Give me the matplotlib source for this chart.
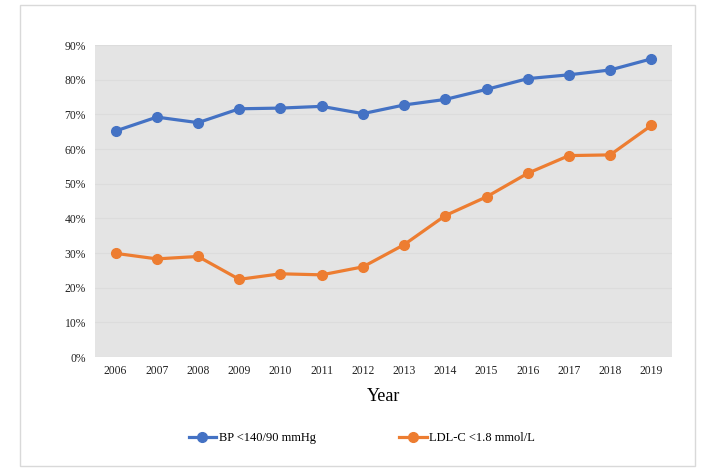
import matplotlib
matplotlib.use("Agg")
import matplotlib.pyplot as plt
from matplotlib.patches import Rectangle
from matplotlib.ticker import FuncFormatter, MultipleLocator

years = ["2006", "2007", "2008", "2009", "2010", "2011", "2012",
         "2013", "2014", "2015", "2016", "2017", "2018", "2019"]
bp = [65.2, 69.2, 67.6, 71.6, 71.8, 72.3, 70.2, 72.7, 74.3, 77.2, 80.3, 81.4, 82.8, 86.0]
ldl = [29.9, 28.3, 29.0, 22.4, 24.0, 23.7, 26.0, 32.4, 40.8, 46.2, 53.0, 58.1, 58.3, 66.8]
labels = ["BP <140/90 mmHg", "LDL-C <1.8 mmol/L"]

plt.rcParams['font.family'] = ['Liberation Serif', 'DejaVu Serif']

fig = plt.figure(figsize=(7.08, 4.72), dpi=100)
W, H = 708, 472
# outer border
fig.patches.append(Rectangle((20 / W, 1 - 466 / H), (695 - 20) / W, (466 - 5) / H,
                             transform=fig.transFigure, fill=False,
                             edgecolor="#d9d9d9", linewidth=1.0))

ax = fig.add_axes([95 / W, 1 - 357 / H, (672 - 95) / W, (357 - 45) / H])
ax.set_facecolor("#e4e4e4")
x = list(range(len(years)))
ax.plot(x, bp, color="#4472C4", lw=2.3, marker="o", ms=7, label=labels[0], zorder=3)
ax.plot(x, ldl, color="#ED7D31", lw=2.3, marker="o", ms=7, label=labels[1], zorder=3)

ax.set_xlim(-0.5, len(years) - 0.5)
ax.set_ylim(0, 90)
ax.yaxis.set_major_locator(MultipleLocator(10))
ax.yaxis.set_major_formatter(FuncFormatter(lambda v, p: f"{int(round(v))}%"))
ax.set_xticks(x)
ax.set_xticklabels(years)
ax.grid(axis="y", color="#dcdcdc", lw=0.8)
ax.set_axisbelow(True)
for s in ax.spines.values():
    s.set_visible(False)
ax.tick_params(length=0, labelsize=8.4, colors="#222222")
ax.tick_params(axis="y", pad=6.5)
ax.tick_params(axis="x", pad=6)
ax.set_xlabel("Year", fontsize=13, labelpad=8)

fig.legend(loc="center", bbox_to_anchor=(362 / W, 1 - 438 / H), ncol=2, frameon=False,
           fontsize=9, columnspacing=6.7, handlelength=2.2, handletextpad=0.2)

fig.savefig("out.png", dpi=100)
